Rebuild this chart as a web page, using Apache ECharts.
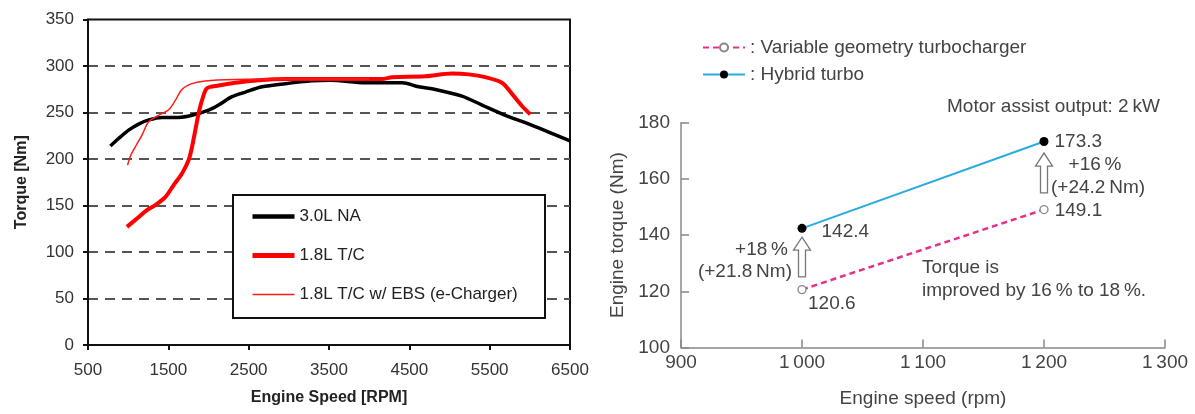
<!DOCTYPE html>
<html>
<head>
<meta charset="utf-8">
<script src="https://cdn.jsdelivr.net/npm/echarts@6/dist/echarts.min.js"></script>
<style>
html,body{margin:0;padding:0;background:#fff;}
#c{width:1195px;height:414px;}
</style>
</head>
<body>
<div id="c"></div>
<script>
// ---- Left chart data ----
const naRpm    = [779, 881, 1006, 1130, 1255, 1421, 1628, 1795, 2002, 2126, 2293, 2459, 2666, 2956, 3289, 3517, 3953, 4410, 4617, 4824, 5156, 5405, 5695, 5944, 6234, 6500];
const naTorque = [214, 222, 231, 237.5, 242, 244.7, 244.7, 247, 252.6, 258, 267, 272, 277.6, 281, 284, 284.7, 282, 282, 277.6, 274.8, 267.6, 258, 247, 239, 229, 219.6];

const tcRpm    = [985, 1110, 1234, 1338, 1462, 1566, 1670, 1753, 1795, 1836, 1877, 1919, 1981, 2126, 2334, 2624, 2956, 3517, 4161, 4285, 4700, 5032, 5239, 5445, 5653, 5778, 5902, 6006];
const tcTorque = [127, 136, 145, 150.5, 159, 172, 184.5, 199, 213, 231, 249, 263, 276, 279, 282, 284.7, 286, 286, 286, 288, 289, 292, 291, 288, 282, 270, 257, 248];

const ebsRpm    = [993, 1027, 1089, 1172, 1255, 1379, 1504, 1587, 1670, 1795, 1961, 2334, 2956, 3500, 4000];
const ebsTorque = [193.4, 203, 213, 225.7, 240, 247, 253, 263, 274.8, 281, 284, 285.5, 286, 286, 286];

const leftNames = ['3.0L NA', '1.8L T/C', '1.8L T/C w/ EBS (e-Charger)'];

// ---- Right chart data ----
const rightNames = ['Variable geometry turbocharger', 'Hybrid turbo'];
const vgtSpeed  = [1000, 1200];
const vgtTorque = [120.6, 149.1];
const hybSpeed  = [1000, 1200];
const hybTorque = [142.4, 173.3];
const arrowSpeed = [1000, 1200];
const arrowFrom  = [125.1, 155.0];
const arrowTo    = [139.3, 169.2];

const leftXTicks = {min: 500, max: 6500, interval: 1000};
const leftYTicks = {min: 0, max: 350, interval: 50};
const rightXTicks = {min: 900, max: 1300, interval: 100};
const rightYTicks = {min: 100, max: 180, interval: 20};

const FF = 'Liberation Sans, Arial, Helvetica, sans-serif';
const zip = (a, b) => a.map((v, i) => [v, b[i]]);

const chart = echarts.init(document.getElementById('c'), null, {renderer: 'canvas'});

const leftLegendWidths = [4.5, 5, 1.5];
const vgtLabelCfg = [
  {position: 'bottom', distance: 0, align: 'left', offset: [6, 0]},
  {position: 'right', distance: 6, offset: [0, 1]}
];
const hybLabelCfg = [
  {position: 'right', distance: 15, offset: [0, 3]},
  {position: 'right', distance: 6, offset: [0, 0]}
];

const option = {
  animation: false,
  backgroundColor: '#fff',
  textStyle: {fontFamily: FF},
  grid: [
    {left: 88, right: 625, top: 19.5, bottom: 69, show: true, borderColor: '#111', borderWidth: 2, backgroundColor: 'transparent'},
    {left: 681, right: 30, top: 122.7, bottom: 66.5}
  ],
  legend: [
    {
      data: leftNames.map((n, i) => ({name: n, lineStyle: {width: leftLegendWidths[i]}})),
      orient: 'vertical', left: 250, top: 208, padding: 0,
      itemWidth: 42, itemHeight: 14, itemGap: 22, z: 20,
      itemStyle: {opacity: 0},
      textStyle: {fontSize: 17, lineHeight: 17, color: '#222', fontFamily: FF},
      selectedMode: false
    },
    {
      data: rightNames, orient: 'vertical', left: 702, top: 38, padding: 0,
      itemWidth: 42, itemHeight: 10, itemGap: 8,
      formatter: ': {name}',
      textStyle: {fontSize: 19, lineHeight: 19, color: '#444', fontFamily: FF},
      selectedMode: false
    }
  ],
  xAxis: [
    {
      gridIndex: 0, type: 'value', min: leftXTicks.min, max: leftXTicks.max, interval: leftXTicks.interval,
      axisLine: {lineStyle: {color: '#111', width: 2}},
      axisTick: {inside: false, length: 5, lineStyle: {color: '#111', width: 2}},
      axisLabel: {fontSize: 17, color: '#333', margin: 17, fontFamily: FF, formatter: v => String(v)},
      splitLine: {show: false},
      name: 'Engine Speed [RPM]', nameLocation: 'middle', nameGap: 45,
      nameTextStyle: {fontSize: 16, fontWeight: 'bold', color: '#222', fontFamily: FF}
    },
    {
      gridIndex: 1, type: 'value', min: rightXTicks.min, max: rightXTicks.max, interval: rightXTicks.interval,
      axisLine: {lineStyle: {color: '#888', width: 1.5}},
      axisTick: {inside: true, length: 8, lineStyle: {color: '#888', width: 1.5}},
      axisLabel: {fontSize: 19, color: '#444', margin: 6, fontFamily: FF,
        formatter: v => (v >= 1000 ? String(v).replace(/^(\d)(\d{3})$/, '$1\u2009$2') : String(v))},
      splitLine: {show: false},
      name: 'Engine speed (rpm)', nameLocation: 'middle', nameGap: 42,
      nameTextStyle: {fontSize: 19, color: '#444', fontFamily: FF}
    }
  ],
  yAxis: [
    {
      gridIndex: 0, type: 'value', min: leftYTicks.min, max: leftYTicks.max, interval: leftYTicks.interval,
      axisLine: {show: true, lineStyle: {color: '#111', width: 2}},
      axisTick: {show: true, inside: false, length: 5, lineStyle: {color: '#111', width: 2}},
      axisLabel: {fontSize: 17, color: '#333', margin: 14, fontFamily: FF},
      splitLine: {show: true, showMinLine: false, showMaxLine: false, lineStyle: {color: '#555', width: 2, type: [10, 7]}},
      name: 'Torque [Nm]', nameLocation: 'middle', nameGap: 58,
      nameTextStyle: {fontSize: 16, fontWeight: 'bold', color: '#222', fontFamily: FF}
    },
    {
      gridIndex: 1, type: 'value', min: rightYTicks.min, max: rightYTicks.max, interval: rightYTicks.interval,
      axisLine: {show: true, lineStyle: {color: '#888', width: 1.5}},
      axisTick: {show: true, inside: true, length: 8, lineStyle: {color: '#888', width: 1.5}},
      axisLabel: {fontSize: 19, color: '#444', margin: 11, fontFamily: FF},
      splitLine: {show: false},
      name: 'Engine torque (Nm)', nameLocation: 'middle', nameGap: 54,
      nameTextStyle: {fontSize: 19, color: '#444', fontFamily: FF}
    }
  ],
  graphic: [
    {type: 'rect', z: 10, shape: {x: 233, y: 195, width: 312, height: 123},
     style: {fill: '#fff', stroke: '#111', lineWidth: 2}},
    {type: 'text', z: 10, style: {text: 'Motor assist output: 2\u2009kW', x: 947, y: 107, fill: '#444', fontSize: 19, fontFamily: FF, align: 'left', verticalAlign: 'middle'}},
    {type: 'text', z: 10, style: {text: '+18\u2009%', x: 788, y: 250, fill: '#444', fontSize: 19, fontFamily: FF, align: 'right', verticalAlign: 'middle'}},
    {type: 'text', z: 10, style: {text: '(+21.8\u2009Nm)', x: 792, y: 272, fill: '#444', fontSize: 19, fontFamily: FF, align: 'right', verticalAlign: 'middle'}},
    {type: 'text', z: 10, style: {text: '+16\u2009%', x: 1095, y: 165, fill: '#444', fontSize: 19, fontFamily: FF, align: 'center', verticalAlign: 'middle'}},
    {type: 'text', z: 10, style: {text: '(+24.2\u2009Nm)', x: 1098, y: 188, fill: '#444', fontSize: 19, fontFamily: FF, align: 'center', verticalAlign: 'middle'}},
    {type: 'text', z: 10, style: {text: 'Torque is', x: 922, y: 268, fill: '#444', fontSize: 19, fontFamily: FF, align: 'left', verticalAlign: 'middle'}},
    {type: 'text', z: 10, style: {text: 'improved by 16\u2009% to 18\u2009%.', x: 922, y: 291, fill: '#444', fontSize: 19, fontFamily: FF, align: 'left', verticalAlign: 'middle'}}
  ],
  series: [
    {
      name: leftNames[0], type: 'line', xAxisIndex: 0, yAxisIndex: 0,
      data: zip(naRpm, naTorque), symbol: 'none', smooth: 0.3,
      lineStyle: {color: '#000', width: 3.5}, itemStyle: {color: '#000'}, z: 5
    },
    {
      name: leftNames[1], type: 'line', xAxisIndex: 0, yAxisIndex: 0,
      data: zip(tcRpm, tcTorque), symbol: 'none', smooth: 0.3,
      lineStyle: {color: '#ff0000', width: 4}, itemStyle: {color: '#ff0000'}, z: 6
    },
    {
      name: leftNames[2], type: 'line', xAxisIndex: 0, yAxisIndex: 0,
      data: zip(ebsRpm, ebsTorque), symbol: 'none', smooth: 0.3,
      lineStyle: {color: '#ff1a1a', width: 1.5}, itemStyle: {color: '#ff1a1a'}, z: 7
    },
    {
      name: rightNames[0], type: 'line', xAxisIndex: 1, yAxisIndex: 1,
      data: zip(vgtSpeed, vgtTorque).map((p, i) => ({value: p, label: vgtLabelCfg[i]})),
      symbol: 'circle', symbolSize: 8, showSymbol: true,
      lineStyle: {color: '#E8308A', width: 2.5, type: [6, 4]},
      itemStyle: {color: '#fff', borderColor: '#888', borderWidth: 1.3},
      label: {show: true, color: '#444', fontSize: 19, fontFamily: FF, formatter: p => String(p.value[1])},
      z: 5
    },
    {
      name: rightNames[1], type: 'line', xAxisIndex: 1, yAxisIndex: 1,
      data: zip(hybSpeed, hybTorque).map((p, i) => ({value: p, label: hybLabelCfg[i]})),
      symbol: 'circle', symbolSize: 9, showSymbol: true,
      lineStyle: {color: '#29ABE2', width: 2},
      itemStyle: {color: '#000'},
      label: {show: true, color: '#444', fontSize: 19, fontFamily: FF, formatter: p => String(p.value[1])},
      z: 6
    },
    {
      name: 'arrows', type: 'custom', xAxisIndex: 1, yAxisIndex: 1,
      data: arrowSpeed.map((s, i) => [s, arrowFrom[i], arrowTo[i]]),
      renderItem: function (params, api) {
        const b = api.coord([api.value(0), api.value(1)]);
        const t = api.coord([api.value(0), api.value(2)]);
        const x = b[0], sw = 3.5, hw = 8.5, hl = 13;
        const pts = [
          [x - sw, b[1]], [x - sw, t[1] + hl], [x - hw, t[1] + hl], [x, t[1]],
          [x + hw, t[1] + hl], [x + sw, t[1] + hl], [x + sw, b[1]]
        ];
        return {type: 'polygon', shape: {points: pts}, style: {fill: '#fff', stroke: '#777', lineWidth: 1.3}};
      },
      z: 4
    }
  ]
};
chart.setOption(option);
</script>
</body>
</html>
